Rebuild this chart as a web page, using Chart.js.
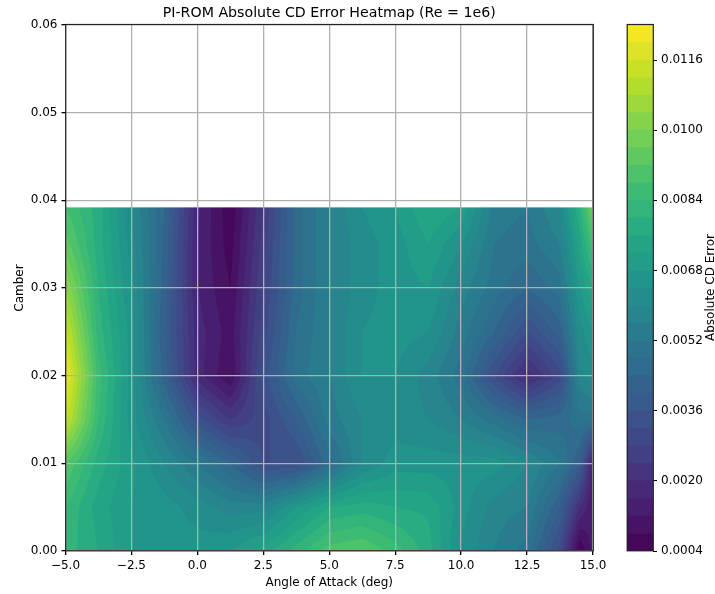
<!DOCTYPE html>
<html>
<head>
<meta charset="utf-8">
<style>
  html,body{margin:0;padding:0;background:#fff;}
  #wrap{position:relative;width:715px;height:594px;overflow:hidden;}
  canvas{position:absolute;left:0;top:0;}
</style>
<script src="https://cdn.jsdelivr.net/npm/chart.js@4/dist/chart.umd.min.js"></script>
</head>
<body>
<div id="wrap">
  <canvas id="heat" width="715" height="594"></canvas>
  <canvas id="cbar" width="715" height="594"></canvas>
</div>
<script>
// axes of the sampled field
const alphas  = [-5,-3.75,-2.5,-1.25,0,1.25,2.5,3.75,5,6.25,7.5,8.75,10,11.25,12.5,13.75,14.5,15];
const cambers = [0,0.005,0.01,0.015,0.02,0.025,0.03,0.035,0.0392];

// absolute CD error, one list per camber
const row0000 = [.0082,.0076,.0068,.0066,.0066,.0068,.0074,.0082,.0090,.0092,.0086,.0078,.0063,.0056,.0050,.0030,.0004,.0014];
const row0050 = [.0084,.0074,.0068,.0066,.0062,.0058,.0058,.0068,.0076,.0078,.0076,.0075,.0066,.0058,.0056,.0040,.0020,.0012];
const row0100 = [.0092,.0078,.0069,.0060,.0052,.0044,.0032,.0032,.0046,.0060,.0066,.0066,.0066,.0066,.0060,.0052,.0040,.0014];
const row0150 = [.0114,.0084,.0066,.0052,.0034,.0024,.0030,.0040,.0054,.0060,.0062,.0060,.0056,.0050,.0044,.0046,.0050,.0050];
const row0200 = [.0122,.0086,.0066,.0042,.0018,.0008,.0034,.0050,.0056,.0064,.0064,.0058,.0050,.0032,.0018,.0030,.0059,.0062];
const row0250 = [.0114,.0082,.0066,.0040,.0018,.0010,.0030,.0048,.0056,.0064,.0066,.0064,.0054,.0044,.0032,.0042,.0062,.0068];
const row0300 = [.0104,.0080,.0064,.0042,.0016,.0008,.0028,.0046,.0056,.0062,.0066,.0068,.0058,.0050,.0044,.0050,.0068,.0076];
const row0350 = [.0094,.0078,.0062,.0043,.0016,.0006,.0026,.0046,.0056,.0062,.0066,.0072,.0064,.0052,.0050,.0056,.0074,.0088];
const row0392 = [.0088,.0078,.0060,.0044,.0017,.0005,.0024,.0046,.0056,.0064,.0068,.0076,.0072,.0054,.0052,.0060,.0080,.0098];
const errorGrid = [row0000,row0050,row0100,row0150,row0200,row0250,row0300,row0350,row0392];

// contour levels and colorbar ticks
const levelMin = 0.0004, levelStep = 0.0004, levelCount = 30;
const cbarTicks = [0.0004,0.0020,0.0036,0.0052,0.0068,0.0084,0.0100,0.0116];
const xTicks = [-5,-2.5,0,2.5,5,7.5,10,12.5,15];
const yTicks = [0,0.01,0.02,0.03,0.04,0.05,0.06];

const viridis = [[68,1,84],[72,36,117],[65,68,135],[53,95,141],[42,120,142],[33,145,140],[34,168,132],[68,191,112],[122,209,81],[189,223,38],[253,231,37]];

const FONT = "'DejaVu Sans', sans-serif";
const TICK_PX = 12;
const levelMax = levelMin + levelStep*levelCount;

function cmap(t){
  const p = Math.min(Math.max(t,0),0.9999)*(viridis.length-1);
  const i = Math.floor(p), f = p-i;
  return viridis[i].map((c,k) => Math.round(c+(viridis[i+1][k]-c)*f));
}
// one flat colour per contour band
const bandColors = [];
for(let i=0;i<levelCount;i++) bandColors.push(cmap((i+0.5)/levelCount));

function findCell(list, v){
  let i = 0;
  while(i < list.length-2 && v > list[i+1]) i++;
  return i;
}
function fieldAt(a, c){
  const i = findCell(alphas,a), j = findCell(cambers,c);
  const fx = (a-alphas[i])/(alphas[i+1]-alphas[i]);
  const fy = (c-cambers[j])/(cambers[j+1]-cambers[j]);
  const lo = errorGrid[j][i]*(1-fx)+errorGrid[j][i+1]*fx;
  const hi = errorGrid[j+1][i]*(1-fx)+errorGrid[j+1][i+1]*fx;
  return lo*(1-fy)+hi*fy;
}

// filled contours, painted through the chart's scales
const contourPlugin = {
  id:"contour",
  beforeDatasetsDraw(chart){
    const {ctx, chartArea:a, scales:{x,y}} = chart;
    const ss = 3;
    const w = Math.round(a.right-a.left)*ss, h = Math.round(a.bottom-a.top)*ss;
    const off = document.createElement("canvas");
    off.width = w; off.height = h;
    const oc = off.getContext("2d");
    const img = oc.createImageData(w,h);
    const top = cambers[cambers.length-1];
    for(let py=0;py<h;py++){
      const cv = y.getValueForPixel(a.top+(py+0.5)*(a.bottom-a.top)/h);
      if(cv > top) continue;
      for(let px=0;px<w;px++){
        const av = x.getValueForPixel(a.left+(px+0.5)*(a.right-a.left)/w);
        const v = fieldAt(av,cv);
        let b = Math.floor((v-levelMin)/levelStep);
        b = Math.min(Math.max(b,0),levelCount-1);
        const col = bandColors[b], o = (py*w+px)*4;
        img.data[o]=col[0]; img.data[o+1]=col[1]; img.data[o+2]=col[2]; img.data[o+3]=255;
      }
    }
    oc.putImageData(img,0,0);
    ctx.save();
    ctx.imageSmoothingEnabled = true;
    ctx.imageSmoothingQuality = "high";
    ctx.drawImage(off,a.left,a.top,a.right-a.left,a.bottom-a.top);
    ctx.restore();
  }
};

const framePlugin = {
  id:"frame",
  afterDraw(chart){
    const {ctx, chartArea:a} = chart;
    ctx.save();
    ctx.strokeStyle = "#222";
    ctx.lineWidth = 1.2;
    ctx.strokeRect(a.left+0.2,a.top-0.5,a.right-a.left+0.1,a.bottom-a.top+0.3);
    ctx.restore();
  }
};

const cbarLabelPlugin = {
  id:"cbarLabel",
  afterDraw(chart){
    const {ctx, chartArea:a} = chart;
    ctx.save();
    ctx.translate(711,(a.top+a.bottom)/2-0.5);
    ctx.rotate(-Math.PI/2);
    ctx.font = TICK_PX+"px "+FONT;
    ctx.fillStyle = "#000";
    ctx.textAlign = "center";
    ctx.textBaseline = "middle";
    ctx.fillText("Absolute CD Error",0,0);
    ctx.restore();
  }
};

const samplePoints = [];
cambers.forEach((c,j) => alphas.forEach((a,i) => samplePoints.push({x:a,y:c,v:errorGrid[j][i]})));

new Chart(document.getElementById("heat"),{
  type:"scatter",
  data:{datasets:[{label:"Absolute CD Error",data:samplePoints,pointRadius:0,showLine:false}]},
  plugins:[contourPlugin,framePlugin],
  options:{
    responsive:false,
    animation:false,
    layout:{padding:{right:122,left:0,top:0,bottom:0}},
    plugins:{
      legend:{display:false},
      tooltip:{enabled:false},
      title:{
        display:true,
        fullSize:false,
        text:"PI-ROM Absolute CD Error Heatmap (Re = 1e6)",
        color:"#000",
        font:{family:FONT,size:14.2,weight:"normal",lineHeight:1},
        padding:{top:6,bottom:4.8}
      }
    },
    scales:{
      x:{
        type:"linear",min:-5,max:15,
        afterBuildTicks:s => { s.ticks = xTicks.map(v => ({value:v})); },
        afterFit:s => { s.height = 43; },
        grid:{color:"#b0b0b0",lineWidth:1.3,z:1,tickLength:4,tickColor:"#000"},
        border:{display:false},
        ticks:{color:"#000",font:{family:FONT,size:TICK_PX},maxRotation:0,autoSkip:false,padding:4,
          callback:v => (v<0?"\u2212":"")+Math.abs(v).toFixed(1)},
        title:{display:true,text:"Angle of Attack (deg)",color:"#000",font:{family:FONT,size:TICK_PX},padding:{top:3,bottom:4}}
      },
      y:{
        type:"linear",min:0,max:0.06,
        afterBuildTicks:s => { s.ticks = yTicks.map(v => ({value:v})); },
        afterFit:s => { s.width = 65.5; },
        grid:{color:"#b0b0b0",lineWidth:1.3,z:1,tickLength:4,tickColor:"#000"},
        border:{display:false},
        ticks:{color:"#000",font:{family:FONT,size:TICK_PX},autoSkip:false,padding:4,callback:v => v.toFixed(2)},
        title:{display:true,text:"Camber",color:"#000",font:{family:FONT,size:TICK_PX},padding:{top:13,bottom:4}}
      }
    }
  }
});

// colorbar: one floating bar per contour band
const cbarSets = bandColors.map((c,i) => ({
  label:"band"+i,
  data:[[levelMin+i*levelStep, levelMin+(i+1)*levelStep]],
  backgroundColor:"rgb("+c.join(",")+")",
  borderWidth:0,
  grouped:false,
  barPercentage:1,
  categoryPercentage:1
}));

new Chart(document.getElementById("cbar"),{
  type:"bar",
  data:{labels:["err"],datasets:cbarSets},
  plugins:[framePlugin,cbarLabelPlugin],
  options:{
    responsive:false,
    animation:false,
    layout:{padding:{left:627,right:0,top:25,bottom:43}},
    plugins:{legend:{display:false},tooltip:{enabled:false}},
    scales:{
      x:{display:false},
      y:{
        position:"right",min:levelMin,max:levelMax,
        afterBuildTicks:s => { s.ticks = cbarTicks.map(v => ({value:v})); },
        afterFit:s => { s.width = 62; },
        grid:{display:true,drawOnChartArea:false,tickLength:4,tickColor:"#000"},
        border:{display:false},
        ticks:{color:"#000",font:{family:FONT,size:TICK_PX},autoSkip:false,padding:4,callback:v => v.toFixed(4)}
      }
    }
  }
});
</script>
</body>
</html>
